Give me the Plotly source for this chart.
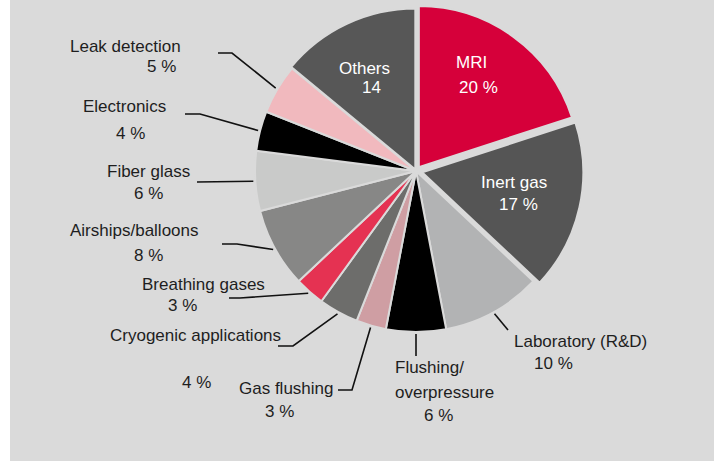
import math
import plotly.graph_objects as go

# ---------------- data ----------------
categories = ["MRI", "Inert gas", "Laboratory (R&D)", "Flushing/overpressure",
              "Gas flushing", "Cryogenic applications", "Breathing gases",
              "Airships/balloons", "Fiber glass", "Electronics",
              "Leak detection", "Others"]
values = [20, 17, 10, 6, 3, 4, 3, 8, 6, 4, 5, 14]
value_labels = ["20 %", "17 %", "10 %", "6 %", "3 %", "4 %", "3 %",
                "8 %", "6 %", "4 %", "5 %", "14"]

# ---------------- style ----------------
W, H = 718, 461
BG = "#dadada"
colors = ["#d6003a", "#555555", "#b2b3b4", "#000000", "#cf9ea3", "#6d6d6b",
          "#e53252", "#878786", "#c9cac9", "#000000", "#f1b9be", "#575757"]
pulls = [0.03, 0.04, 0, 0, 0, 0, 0, 0, 0, 0, 0, 0.01]
CX, CY, R = 416, 171, 161          # pie centre / radius in pixels
FONT = "Liberation Sans, Arial, sans-serif"
FS = 17
TXT = "#1e1e1e"

half = R * (1 + max(pulls))
dom_x = [(CX - half) / W, (CX + half) / W]
dom_y = [1 - (CY + half) / H, 1 - (CY - half) / H]


def px(x, y):
    return x / W, 1 - y / H


fig = go.Figure()
fig.add_trace(go.Pie(
    labels=categories, values=values, sort=False, direction="clockwise",
    rotation=0, pull=pulls, textinfo="none", hoverinfo="skip",
    marker=dict(colors=colors, line=dict(color=BG, width=2)),
    domain=dict(x=dom_x, y=dom_y), showlegend=False,
))

# label layout: (name line(s) with position/anchor, value position)
label_layout = {
    "MRI": dict(name=[("MRI", 472, 62, "center")], val=(478, 88), color="white"),
    "Inert gas": dict(name=[("Inert gas", 514, 182, "center")], val=(518, 204), color="white"),
    "Others": dict(name=[("Others", 364, 68, "center")], val=(372, 88), color="white"),
    "Laboratory (R&D)": dict(name=[("Laboratory (R&D)", 580, 341, "center")], val=(553, 363)),
    "Flushing/overpressure": dict(name=[("Flushing/", 393, 367, "left"),
                                        ("overpressure", 393, 392, "left")], val=(438, 415)),
    "Gas flushing": dict(name=[("Gas flushing", 286, 388, "center")], val=(279, 411)),
    "Cryogenic applications": dict(name=[("Cryogenic applications", 195, 335, "center")], val=(196, 382)),
    "Breathing gases": dict(name=[("Breathing gases", 203, 284, "center")], val=(182, 305)),
    "Airships/balloons": dict(name=[("Airships/balloons", 134, 230, "center")], val=(148, 255)),
    "Fiber glass": dict(name=[("Fiber glass", 148, 171, "center")], val=(148, 193)),
    "Electronics": dict(name=[("Electronics", 124, 106, "center")], val=(130, 133)),
    "Leak detection": dict(name=[("Leak detection", 126, 47, "center")], val=(161, 67)),
}

# leader lines: outer end and knee (pixels); inner end computed from slice angle
leaders = {
    "Leak detection": [(218, 53), (232, 53)],
    "Electronics": [(185, 114), (200, 114)],
    "Fiber glass": [(197, 182)],
    "Airships/balloons": [(222, 244), (237, 244)],
    "Breathing gases": [(229, 298), (240, 298)],
    "Cryogenic applications": [(278, 346), (293, 346)],
    "Gas flushing": [(338, 390), (352, 390)],
    "Flushing/overpressure": [(416, 356)],
    "Laboratory (R&D)": [(508, 330)],
}

annotations = []
for cat, vlab in zip(categories, value_labels):
    lay = label_layout[cat]
    col = lay.get("color", TXT)
    for text, x, y, anc in lay["name"]:
        xp, yp = px(x, y)
        annotations.append(dict(text=text, x=xp, y=yp, xref="paper", yref="paper",
                                xanchor=anc, yanchor="middle", showarrow=False,
                                font=dict(family=FONT, size=FS, color=col)))
    xp, yp = px(*lay["val"])
    annotations.append(dict(text=vlab, x=xp, y=yp, xref="paper", yref="paper",
                            xanchor="center", yanchor="middle", showarrow=False,
                            font=dict(family=FONT, size=FS, color=col)))

shapes = [dict(type="rect", xref="paper", yref="paper", x0=10 / W, x1=714 / W,
               y0=0, y1=1, fillcolor=BG, line=dict(width=0), layer="below")]

total = sum(values)
cum = 0
for cat, v in zip(categories, values):
    mid = 2 * math.pi * (cum + v / 2) / total
    cum += v
    if cat not in leaders:
        continue
    rr = R + 2
    ax, ay = CX + rr * math.sin(mid), CY - rr * math.cos(mid)
    pts = leaders[cat] + [(ax, ay)]
    path = "M " + " L ".join(f"{px(x, y)[0]:.5f},{px(x, y)[1]:.5f}" for x, y in pts)
    shapes.append(dict(type="path", xref="paper", yref="paper", path=path,
                       line=dict(color="#111111", width=1.6), layer="above"))

fig.update_layout(
    width=W, height=H, margin=dict(l=0, r=0, t=0, b=0),
    paper_bgcolor="white", plot_bgcolor="white",
    annotations=annotations, shapes=shapes,
)

fig.write_html("out.html", config={"displayModeBar": False},
               post_script="document.body.style.margin='0';document.body.style.overflow='hidden';")
